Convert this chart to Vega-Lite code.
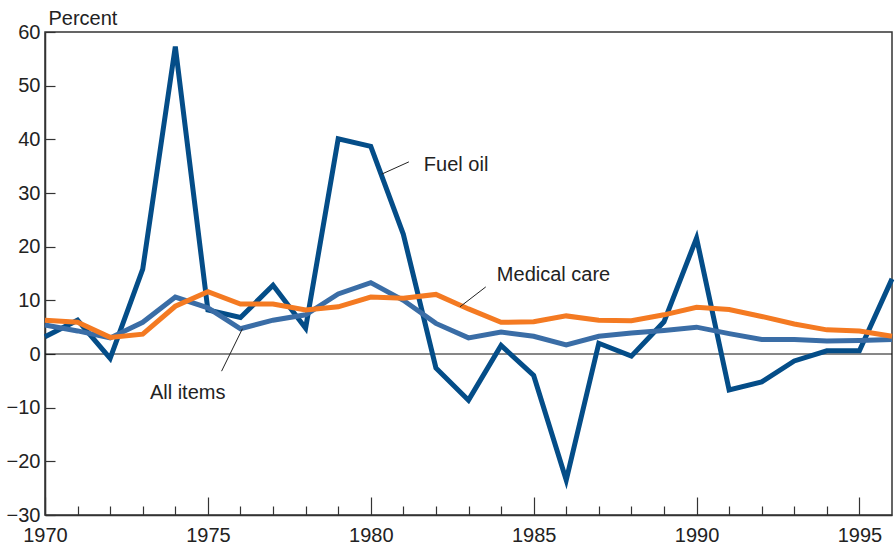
{
  "$schema": "https://vega.github.io/schema/vega-lite/v6.json",
  "width": 847,
  "height": 483,
  "autosize": "none",
  "padding": {"left": 45, "top": 32, "right": 3, "bottom": 29},
  "background": "white",
  "config": {
    "view": {"stroke": "#333", "strokeWidth": 1.5},
    "font": "Liberation Sans",
    "axis": {
      "labelFont": "Liberation Sans",
      "labelFontSize": 20,
      "labelColor": "#222",
      "domainColor": "#333",
      "domainWidth": 1.5,
      "tickColor": "#333",
      "tickWidth": 1.2,
      "grid": false
    }
  },
  "datasets": {
    "series": [
      {"year": 1970, "series": "Fuel oil", "value": 3.2},
      {"year": 1971, "series": "Fuel oil", "value": 6.3},
      {"year": 1972, "series": "Fuel oil", "value": -0.8},
      {"year": 1973, "series": "Fuel oil", "value": 15.8},
      {"year": 1974, "series": "Fuel oil", "value": 57.3},
      {"year": 1975, "series": "Fuel oil", "value": 8.2},
      {"year": 1976, "series": "Fuel oil", "value": 6.8},
      {"year": 1977, "series": "Fuel oil", "value": 12.8},
      {"year": 1978, "series": "Fuel oil", "value": 4.8},
      {"year": 1979, "series": "Fuel oil", "value": 40.1},
      {"year": 1980, "series": "Fuel oil", "value": 38.7},
      {"year": 1981, "series": "Fuel oil", "value": 22.3},
      {"year": 1982, "series": "Fuel oil", "value": -2.6},
      {"year": 1983, "series": "Fuel oil", "value": -8.6},
      {"year": 1984, "series": "Fuel oil", "value": 1.6},
      {"year": 1985, "series": "Fuel oil", "value": -4.0},
      {"year": 1986, "series": "Fuel oil", "value": -23.5},
      {"year": 1987, "series": "Fuel oil", "value": 2.0},
      {"year": 1988, "series": "Fuel oil", "value": -0.4},
      {"year": 1989, "series": "Fuel oil", "value": 6.0},
      {"year": 1990, "series": "Fuel oil", "value": 21.6},
      {"year": 1991, "series": "Fuel oil", "value": -6.7},
      {"year": 1992, "series": "Fuel oil", "value": -5.2},
      {"year": 1993, "series": "Fuel oil", "value": -1.3},
      {"year": 1994, "series": "Fuel oil", "value": 0.6},
      {"year": 1995, "series": "Fuel oil", "value": 0.6},
      {"year": 1996, "series": "Fuel oil", "value": 14.0},
      {"year": 1970, "series": "All items", "value": 5.4},
      {"year": 1971, "series": "All items", "value": 4.3},
      {"year": 1972, "series": "All items", "value": 3.0},
      {"year": 1973, "series": "All items", "value": 5.9},
      {"year": 1974, "series": "All items", "value": 10.6},
      {"year": 1975, "series": "All items", "value": 8.6},
      {"year": 1976, "series": "All items", "value": 4.7},
      {"year": 1977, "series": "All items", "value": 6.3},
      {"year": 1978, "series": "All items", "value": 7.3},
      {"year": 1979, "series": "All items", "value": 11.2},
      {"year": 1980, "series": "All items", "value": 13.3},
      {"year": 1981, "series": "All items", "value": 10.0},
      {"year": 1982, "series": "All items", "value": 5.7},
      {"year": 1983, "series": "All items", "value": 3.0},
      {"year": 1984, "series": "All items", "value": 4.1},
      {"year": 1985, "series": "All items", "value": 3.3},
      {"year": 1986, "series": "All items", "value": 1.7},
      {"year": 1987, "series": "All items", "value": 3.3},
      {"year": 1988, "series": "All items", "value": 3.9},
      {"year": 1989, "series": "All items", "value": 4.4},
      {"year": 1990, "series": "All items", "value": 5.0},
      {"year": 1991, "series": "All items", "value": 3.8},
      {"year": 1992, "series": "All items", "value": 2.7},
      {"year": 1993, "series": "All items", "value": 2.7},
      {"year": 1994, "series": "All items", "value": 2.4},
      {"year": 1995, "series": "All items", "value": 2.5},
      {"year": 1996, "series": "All items", "value": 2.7},
      {"year": 1970, "series": "Medical care", "value": 6.3},
      {"year": 1971, "series": "Medical care", "value": 5.9},
      {"year": 1972, "series": "Medical care", "value": 3.1},
      {"year": 1973, "series": "Medical care", "value": 3.7},
      {"year": 1974, "series": "Medical care", "value": 8.9},
      {"year": 1975, "series": "Medical care", "value": 11.6},
      {"year": 1976, "series": "Medical care", "value": 9.3},
      {"year": 1977, "series": "Medical care", "value": 9.3},
      {"year": 1978, "series": "Medical care", "value": 8.2},
      {"year": 1979, "series": "Medical care", "value": 8.8},
      {"year": 1980, "series": "Medical care", "value": 10.6},
      {"year": 1981, "series": "Medical care", "value": 10.4},
      {"year": 1982, "series": "Medical care", "value": 11.1},
      {"year": 1983, "series": "Medical care", "value": 8.4},
      {"year": 1984, "series": "Medical care", "value": 5.9},
      {"year": 1985, "series": "Medical care", "value": 6.0},
      {"year": 1986, "series": "Medical care", "value": 7.1},
      {"year": 1987, "series": "Medical care", "value": 6.3},
      {"year": 1988, "series": "Medical care", "value": 6.2},
      {"year": 1989, "series": "Medical care", "value": 7.3},
      {"year": 1990, "series": "Medical care", "value": 8.7},
      {"year": 1991, "series": "Medical care", "value": 8.3},
      {"year": 1992, "series": "Medical care", "value": 7.0},
      {"year": 1993, "series": "Medical care", "value": 5.6},
      {"year": 1994, "series": "Medical care", "value": 4.5},
      {"year": 1995, "series": "Medical care", "value": 4.3},
      {"year": 1996, "series": "Medical care", "value": 3.3}
    ],
    "labels": [
      {"label": "Fuel oil", "year": 1981.63, "value": 35.2},
      {"label": "Medical care", "year": 1983.87, "value": 14.7},
      {"label": "All items", "year": 1973.22, "value": -7.3}
    ],
    "leaders": [
      {"x": 1980.33, "y": 33.5, "x2": 1981.17, "y2": 35.8},
      {"x": 1982.74, "y": 8.8, "x2": 1983.53, "y2": 12.5},
      {"x": 1975.42, "y": -3.2, "x2": 1976.06, "y2": 4.7}
    ],
    "zero": [{"v": 0}]
  },
  "resolve": {"axis": {"x": "independent"}},
  "layer": [
    {
      "data": {"name": "zero"},
      "mark": {"type": "rule", "color": "#111", "strokeWidth": 1},
      "encoding": {
        "y": {
          "field": "v",
          "type": "quantitative",
          "scale": {"domain": [-30, 60], "nice": false, "zero": false},
          "axis": {
            "values": [-30, -20, -10, 0, 10, 20, 30, 40, 50, 60],
            "tickSize": -10,
            "labelPadding": 15,
            "labelExpr": "replace(datum.label, '-', '\u2212')",
            "title": "Percent",
            "titleAngle": 0,
            "titleAlign": "left",
            "titleBaseline": "alphabetic",
            "titleX": 3,
            "titleY": -8,
            "titleFont": "Liberation Sans",
            "titleFontSize": 20,
            "titleFontWeight": "normal",
            "titleColor": "#222"
          }
        }
      }
    },
    {
      "data": {"name": "series"},
      "mark": {"type": "line", "strokeWidth": 5, "strokeJoin": "miter"},
      "encoding": {
        "x": {
          "field": "year",
          "type": "quantitative",
          "scale": {"domain": [1970, 1996], "nice": false, "zero": false},
          "axis": {
            "orient": "bottom",
            "values": [1970, 1975, 1980, 1985, 1990, 1995],
            "format": "d",
            "tickSize": -18,
            "labelPadding": 28,
            "labelFlush": false,
            "labelOverlap": false,
            "title": null
          }
        },
        "y": {"field": "value", "type": "quantitative"},
        "color": {
          "field": "series",
          "type": "nominal",
          "scale": {"domain": ["All items", "Medical care", "Fuel oil"], "range": ["#3a6da6", "#f47a22", "#044d88"]},
          "legend": null
        }
      }
    },
    {
      "data": {"name": "leaders"},
      "mark": {"type": "rule", "color": "#222", "strokeWidth": 1},
      "encoding": {
        "x": {
          "field": "x",
          "type": "quantitative",
          "axis": {
            "orient": "bottom",
            "values": [1971, 1972, 1973, 1974, 1976, 1977, 1978, 1979, 1981, 1982, 1983, 1984, 1986, 1987, 1988, 1989, 1991, 1992, 1993, 1994],
            "tickSize": -9,
            "labels": false,
            "domain": false,
            "title": null
          }
        },
        "y": {"field": "y", "type": "quantitative"},
        "x2": {"field": "x2"},
        "y2": {"field": "y2"}
      }
    },
    {
      "data": {"name": "labels"},
      "mark": {"type": "text", "align": "left", "baseline": "middle", "fontSize": 20, "color": "#222", "font": "Liberation Sans"},
      "encoding": {
        "x": {"field": "year", "type": "quantitative", "axis": null},
        "y": {"field": "value", "type": "quantitative"},
        "text": {"field": "label"}
      }
    }
  ]
}
